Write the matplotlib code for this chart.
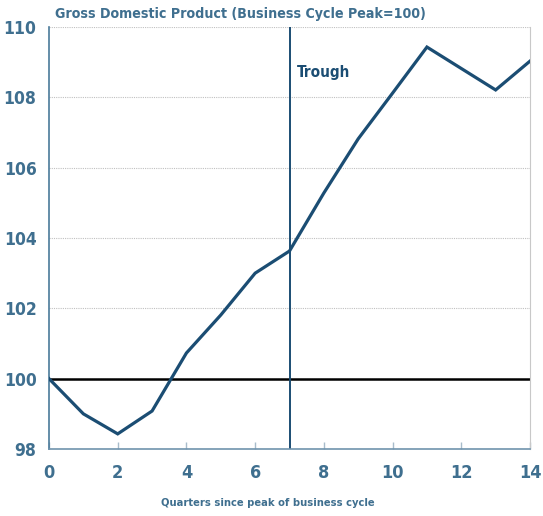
import matplotlib
matplotlib.use("Agg")
import matplotlib.pyplot as plt

quarters = list(range(15))
gdp = [100.0, 99.0, 98.43, 99.08, 100.73, 101.81, 103.0, 103.63, 105.28, 106.82, 108.12, 109.43, 108.82, 108.21, 109.03]
xticks = [0, 2, 4, 6, 8, 10, 12, 14]
yticks = [98, 100, 102, 104, 106, 108, 110]
trough_q = 7
baseline = 100
title = "Gross Domestic Product (Business Cycle Peak=100)"
xlabel = "Quarters since peak of business cycle"

plt.rcParams['font.family'] = ['DejaVu Sans']
plt.rcParams['font.stretch'] = 'condensed'

TXT = "#3f6f8f"
LINE = "#1b4d73"

fig = plt.figure(figsize=(5.43, 5.16), dpi=100)
ax = fig.add_axes([49/543, 1-449/516, (530-49)/543, (449-27)/516])

for y in yticks[1:]:
    ax.axhline(y, color="#c0c0c0", lw=0.8, ls=(0, (1, 1)), zorder=1)
ax.axhline(baseline, color="black", lw=1.8, zorder=2)
ax.axvline(trough_q, color=LINE, lw=1.4, zorder=2)
ax.plot(quarters, gdp, color=LINE, lw=2.3, zorder=3, solid_joinstyle="miter")

ax.set_xlim(0, 14)
ax.set_ylim(98, 110)
ax.set_xticks(xticks)
ax.set_yticks(yticks)
ax.tick_params(axis="x", direction="in", length=5, color="#a8bccb", width=1,
               labelsize=13, labelcolor=TXT, pad=11)
ax.tick_params(axis="y", length=0, labelsize=12.5, labelcolor=TXT, pad=9)
for lab in ax.get_xticklabels() + ax.get_yticklabels():
    lab.set_fontweight("bold")

ax.spines["top"].set_visible(False)
ax.spines["right"].set_color("#c8c8c8")
ax.spines["left"].set_color("#4a7a9a")
ax.spines["left"].set_linewidth(1.2)
ax.spines["bottom"].set_color("#6f93ad")
ax.spines["bottom"].set_linewidth(1.2)

ax.text(7.22, 108.7, "Trough", color=LINE, fontsize=11, fontweight="bold", ha="left", va="center")
fig.text(55/543, 1-14/516, title, color=TXT, fontsize=10.2, fontweight="bold", ha="left", va="center")
fig.text(161/543, 1-503/516, xlabel, color=TXT, fontsize=8, fontweight="bold", ha="left", va="center")

fig.savefig("out.png", dpi=100)
